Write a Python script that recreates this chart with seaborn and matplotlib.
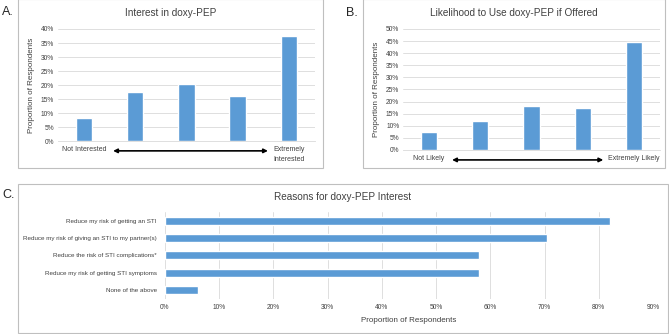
import pandas as pd
import matplotlib.pyplot as plt
import matplotlib.patches as patches
import seaborn as sns

# Panel A: interest in doxy-PEP (1 = not interested ... 5 = extremely interested)
interest_levels = ["1", "2", "3", "4", "5"]
interest_share = [0.083, 0.174, 0.204, 0.162, 0.375]

# Panel B: likelihood to use doxy-PEP if offered
likely_levels = ["1", "2", "3", "4", "5"]
likely_share = [0.076, 0.120, 0.180, 0.175, 0.446]

# Panel C: reasons for interest
reasons = [
    "Reduce my risk of getting an STI",
    "Reduce my risk of giving an STI to my partner(s)",
    "Reduce the risk of STI complications*",
    "Reduce my risk of getting STI symptoms",
    "None of the above",
]
reason_share = [0.820, 0.705, 0.579, 0.579, 0.060]

BLUE = "#5B9BD5"
GRID = "#d9d9d9"
TXT = "#404040"
BOX = "#bfbfbf"

sns.set_theme(style="white")
plt.rcParams['font.family'] = ['Liberation Sans', 'DejaVu Sans']

fig = plt.figure(figsize=(6.69, 3.34), dpi=100)
W, H = 669, 334


def px_box(x0, y0, x1, y1):
    fig.add_artist(patches.Rectangle((x0 / W, 1 - y1 / H), (x1 - x0) / W, (y1 - y0) / H,
                                     transform=fig.transFigure, fill=False,
                                     edgecolor=BOX, linewidth=0.8))


def px_title(x, y, s):
    # titles sit centred on the panel box, not on the plot area
    fig.text(x / W, 1 - y / H, s, fontsize=7.2, color=TXT, ha="center", va="center")


def pct(v, _):
    return f"{v * 100:.0f}%"


def column_panel(rect, levels, shares, ymax, left_lab, right_lab, lab_y, arrow_y, arrow_x):
    ax = fig.add_axes(rect)
    df = pd.DataFrame({"level": levels, "share": shares})
    sns.barplot(data=df, x="level", y="share", color=BLUE, width=0.32, ax=ax,
                saturation=1)
    ax.set_ylim(0, ymax)
    ax.set_yticks([i * 0.05 for i in range(int(round(ymax / 0.05)) + 1)])
    ax.yaxis.set_major_formatter(plt.FuncFormatter(pct))
    ax.yaxis.grid(True, color=GRID, linewidth=0.6)
    ax.set_axisbelow(True)
    for s in ["top", "right", "left"]:
        ax.spines[s].set_visible(False)
    ax.spines["bottom"].set_color(GRID)
    ax.spines["bottom"].set_linewidth(0.6)
    ax.tick_params(axis="y", labelsize=4.8, colors=TXT, length=0, pad=3)
    ax.set_xticks([])
    ax.set_xlabel("")
    ax.set_ylabel("Proportion of Respondents", fontsize=5.8, color=TXT, labelpad=4)
    ax.text(0, lab_y, left_lab, transform=ax.get_xaxis_transform(), ha="center",
            va="top", fontsize=5, color=TXT)
    ax.text(4, lab_y, right_lab, transform=ax.get_xaxis_transform(), ha="center",
            va="top", fontsize=5, color=TXT, linespacing=1.6)
    ax.annotate("", xy=(arrow_x[1], arrow_y), xytext=(arrow_x[0], arrow_y),
                xycoords=ax.get_xaxis_transform(),
                arrowprops=dict(arrowstyle="<|-|>", color="black", lw=1.2,
                                mutation_scale=6, shrinkA=0, shrinkB=0),
                annotation_clip=False)
    return ax


# boxes
px_box(18, -1, 323, 168)
px_box(363, -1, 665, 168)
px_box(18, 184, 668, 333)

axA = column_panel([0.0871, 0.5769, 0.3831, 0.3363], interest_levels, interest_share, 0.40,
                   "Not Interested", "Extremely\nInterested", -0.045, -0.085, (0.57, 3.59))
axB = column_panel([0.603, 0.5509, 0.383, 0.3623], likely_levels, likely_share, 0.50,
                   "Not Likely", "Extremely Likely", -0.04, -0.082, (0.45, 3.4))
px_title(170.5, 13, "Interest in doxy-PEP")
px_title(514, 13, "Likelihood to Use doxy-PEP if Offered")

# Panel C
axC = fig.add_axes([0.2466, 0.1057, 0.7294, 0.2596])
dfc = pd.DataFrame({"reason": reasons, "share": reason_share})
sns.barplot(data=dfc, y="reason", x="share", orient="h", color=BLUE, width=0.45,
            saturation=1, ax=axC)
axC.set_xlim(0, 0.90)
axC.set_xticks([i * 0.1 for i in range(10)])
axC.xaxis.set_major_formatter(plt.FuncFormatter(pct))
axC.xaxis.grid(True, color=GRID, linewidth=0.6)
axC.set_axisbelow(True)
for s in ["top", "right", "left", "bottom"]:
    axC.spines[s].set_visible(False)
axC.tick_params(axis="x", labelsize=4.8, colors=TXT, length=0, pad=4)
axC.tick_params(axis="y", labelsize=4.5, colors=TXT, length=0, pad=6)
axC.set_ylabel("")
axC.set_xlabel("Proportion of Respondents", fontsize=5.8, color=TXT, labelpad=4)
px_title(343, 197, "Reasons for doxy-PEP Interest")

# panel letters
fig.text(2 / W, 1 - 12 / H, "A.", fontsize=9, color="#262626", va="center", ha="left")
fig.text(346 / W, 1 - 13 / H, "B.", fontsize=9, color="#262626", va="center", ha="left")
fig.text(2 / W, 1 - 195 / H, "C.", fontsize=9, color="#262626", va="center", ha="left")

fig.savefig("out.png", dpi=100, facecolor="white")
